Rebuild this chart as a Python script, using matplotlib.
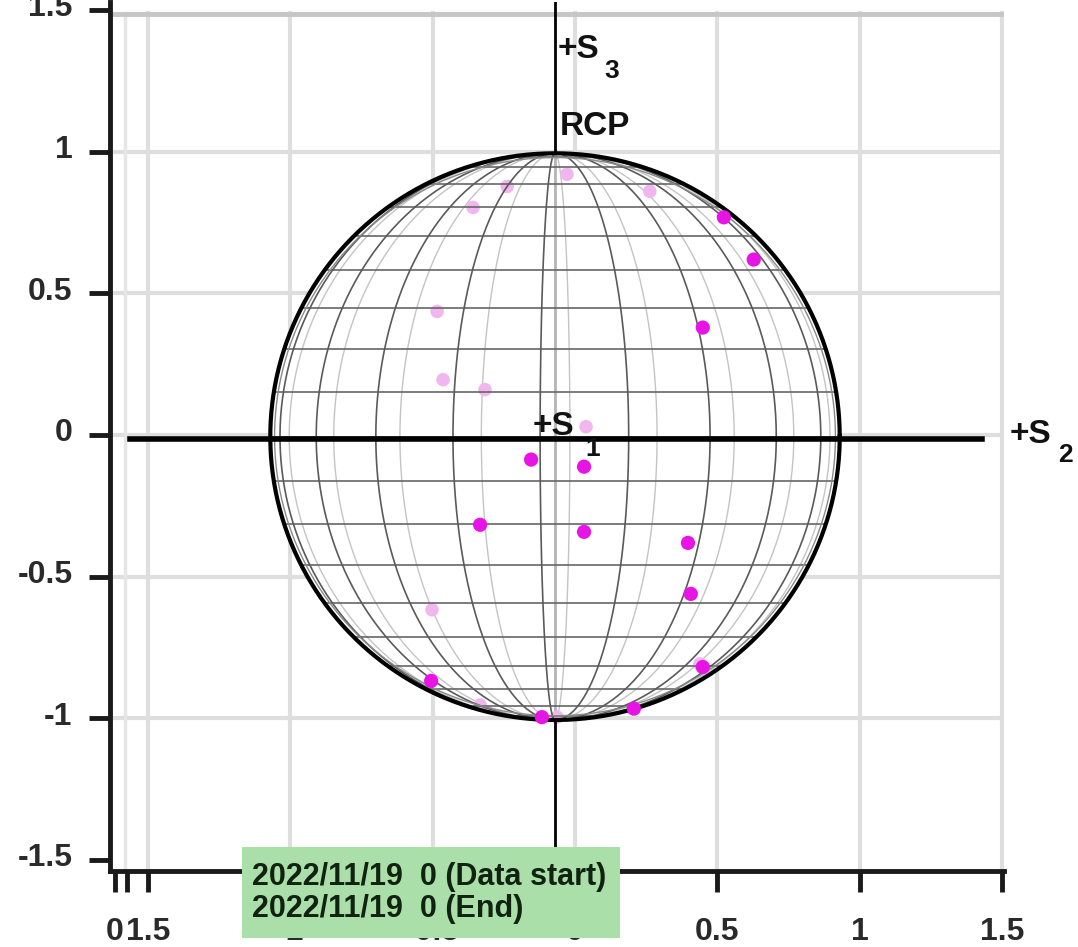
import numpy as np
import matplotlib.pyplot as plt
import matplotlib.transforms as mtransforms
from matplotlib.patches import Rectangle, Circle

plt.rcParams['font.family'] = ['Liberation Sans', 'DejaVu Sans']

# Stokes points (S2, S3) on the near hemisphere (S1 > 0)
front_s2 = [0.593, 0.698, 0.519, -0.084, 0.102, -0.263, 0.102, 0.467, 0.477, -0.435, 0.519, 0.277, -0.046]
front_s3 = [0.774, 0.625, 0.385, -0.081, -0.106, -0.311, -0.336, -0.375, -0.555, -0.862, -0.813, -0.960, -0.990]

# points on the far hemisphere (S1 < 0)
back_s2 = [0.042, -0.168, -0.288, 0.333, -0.414, -0.393, -0.246, 0.109, -0.432, -0.263, 0.007, 0.509]
back_s3 = [0.926, 0.883, 0.809, 0.866, 0.442, 0.201, 0.166, 0.035, -0.611, -0.947, -0.990, -0.802]

x_ticks = [-1.5, -1, -0.5, 0, 0.5, 1, 1.5]
x_tick_labels = ['1.5', '-1', '-0.5', '0', '0.5', '1', '1.5']
y_ticks = [-1.5, -1, -0.5, 0, 0.5, 1, 1.5]
y_tick_labels = ['-1.5', '-1', '-0.5', '0', '0.5', '1', '1.5']

legend_lines = ['2022/11/19  0 (Data start)', '2022/11/19  0 (End)']

# sphere placement and mesh
cx, cy = -0.07, -0.006
lat_step = 9
meridians = np.arange(-75, 90, 18)

fig = plt.figure(figsize=(10.78, 9.47), dpi=100)
ax = fig.add_axes([110 / 1078, 76 / 947, 894 / 1078, 869 / 947])
ax.set_xlim(-1.633, 1.507)
ax.set_ylim(-1.539, 1.528)

# background box grid
for v in [-1, -0.5, 0, 0.5, 1]:
    ax.axhline(v, color='#dedede', lw=3, zorder=0.5)
for v in x_ticks:
    ax.axvline(v, color='#dedede', lw=3, ymax=0.987, zorder=0.5)
ax.axvline(-1.58, color='#e6e6e6', lw=2.5, ymax=0.987, zorder=0.5)
ax.axhline(1.487, color='#c6c6c6', lw=3.5, zorder=0.6)

# sphere body
ax.add_patch(Circle((cx, cy), 1.0, facecolor='white', edgecolor='none', zorder=1))

phi = np.radians(np.linspace(-90, 90, 200))
# far halves of the meridians
for lon in meridians:
    ax.plot(cx - np.sin(np.radians(lon)) * np.cos(phi), cy + np.sin(phi),
            color='#c4c4c4', lw=1.0, zorder=1.2)

# S3 axis seen through the sphere
ax.plot([cx, cx], [cy - 1, cy + 1], color='#b4b4b4', lw=2, zorder=1.3)

ax.scatter([cx + s for s in back_s2], [cy + s for s in back_s3],
           s=95, color='#f1b6ef', edgecolors='none', zorder=1.5)

# parallels
for lat in np.arange(-90 + lat_step, 90, lat_step):
    r = np.cos(np.radians(lat))
    y = cy + np.sin(np.radians(lat))
    ax.plot([cx - r, cx + r], [y, y], color='#666666', lw=1.2, zorder=2)

# near halves of the meridians
for lon in meridians:
    ax.plot(cx + np.sin(np.radians(lon)) * np.cos(phi), cy + np.sin(phi),
            color='#5a5a5a', lw=1.2, zorder=2)

t = np.linspace(0, 2 * np.pi, 400)
ax.plot(cx + 0.985 * np.cos(t), cy + 0.985 * np.sin(t), color='#8a8a8a', lw=1.0, zorder=2.5)
ax.plot(cx + np.cos(t), cy + np.sin(t), color='black', lw=3, zorder=3.5)

# Stokes axes
ax.plot([-1.563, 1.43], [-0.015, -0.015], color='black', lw=4, zorder=3)
ax.plot([cx, cx], [cy + 1, 1.528], color='black', lw=2, zorder=3)
ax.plot([cx, cx], [-1.539, cy - 1], color='black', lw=2, zorder=3)

ax.scatter([cx + s for s in front_s2], [cy + s for s in front_s3],
           s=105, color='#e814e6', edgecolors='none', zorder=4)

lab = dict(fontsize=24, fontweight='bold', color='#111111', zorder=5)
sub = dict(fontsize=19, fontweight='bold', color='#111111', zorder=5)
ax.text(-0.148, 0.0, '+S', **lab)
ax.text(0.035, -0.073, '1', **sub)
ax.text(-0.06, 1.331, '+S', **lab)
ax.text(0.105, 1.261, '3', **sub)
ax.text(-0.053, 1.06, 'RCP', **lab)
ax.text(1.528, -0.028, '+S', clip_on=False, **lab)
ax.text(1.697, -0.094, '2', clip_on=False, **sub)

# axes frame and ticks
for side in ['top', 'right']:
    ax.spines[side].set_visible(False)
for side in ['left', 'bottom']:
    ax.spines[side].set_linewidth(3.5)
    ax.spines[side].set_color('#1a1a1a')

ax.set_xticks(x_ticks, x_tick_labels)
ax.set_yticks(y_ticks, y_tick_labels)
ax.set_xticks([-1.616, -1.574], ['0', ''], minor=True)
ax.tick_params(which='both', length=15, width=3.5, color='#1a1a1a',
               labelsize=23, labelcolor='#2a2a2a', pad=12)
ax.tick_params(axis='x', which='both', pad=18)
lift = mtransforms.ScaledTranslation(0, 5 / 100, fig.dpi_scale_trans)
for lbl in ax.get_yticklabels():
    lbl.set_transform(lbl.get_transform() + lift)
for lbl in ax.get_xticklabels() + ax.get_yticklabels() + ax.get_xminorticklabels():
    lbl.set_fontweight('bold')

# date box
fig.add_artist(Rectangle((242 / 1078, 9 / 947), 378 / 1078, 91 / 947,
                         transform=fig.transFigure, facecolor='#aadfaa',
                         edgecolor='none', zorder=5))
fig.text(252 / 1078, 62 / 947, legend_lines[0], fontsize=22, fontweight='bold',
         color='#112211', zorder=6)
fig.text(252 / 1078, 30 / 947, legend_lines[1], fontsize=22, fontweight='bold',
         color='#112211', zorder=6)

fig.savefig('out.png', dpi=100)
